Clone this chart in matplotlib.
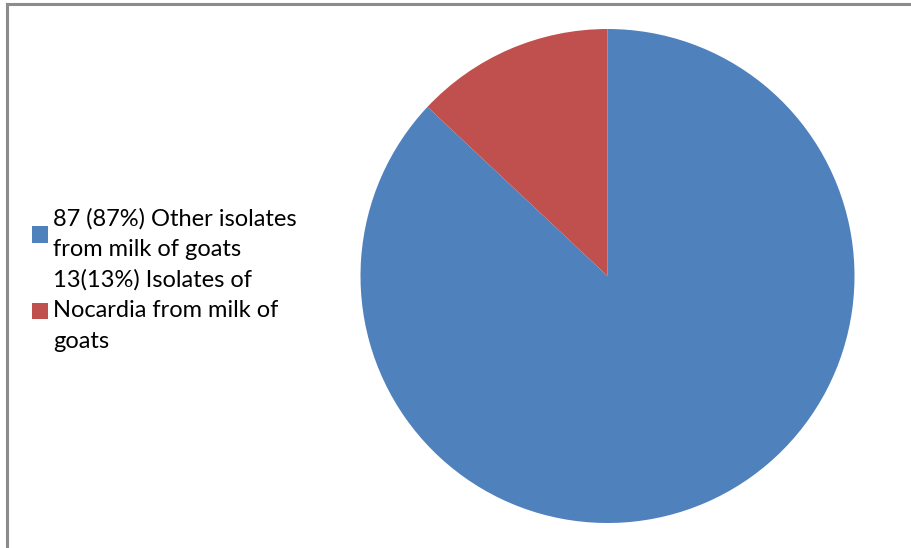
import matplotlib
matplotlib.use("Agg")
import matplotlib.pyplot as plt
from matplotlib.lines import Line2D

labels = ["87 (87%) Other isolates\nfrom milk of goats",
          "13(13%) Isolates of\nNocardia from milk of\ngoats"]
values = [87, 13]
colors = ["#4f81bd", "#c0504d"]

plt.rcParams['font.family'] = ['Lato', 'DejaVu Sans']

fig = plt.figure(figsize=(9.12, 5.48), dpi=100)

# frame lines (left and top only)
fig.add_artist(Line2D([7.5/912, 7.5/912], [0, 1 - 4/548], color="#8c8c8c", lw=2.2))
fig.add_artist(Line2D([7.5/912, 1], [1 - 4/548, 1 - 4/548], color="#8c8c8c", lw=2.2))

ax = fig.add_axes([360/912, 25/548, 495/912, 494/548])
wedges, _ = ax.pie(values, colors=colors, startangle=90, counterclock=False,
                   radius=1, wedgeprops=dict(linewidth=0))
ax.set_xlim(-1, 1)
ax.set_ylim(-1, 1)
ax.set_aspect("equal")
ax.axis("off")

leg = fig.legend(wedges, labels, loc="center left",
                 bbox_to_anchor=(32/912, 1 - 280/548), frameon=False,
                 fontsize=17, handlelength=0.68, handleheight=0.68,
                 handletextpad=0.2, labelspacing=0.4, borderpad=0,
                 borderaxespad=0)
for t in leg.get_texts():
    t.set_linespacing(1.55)

fig.savefig("out.png", dpi=100)
